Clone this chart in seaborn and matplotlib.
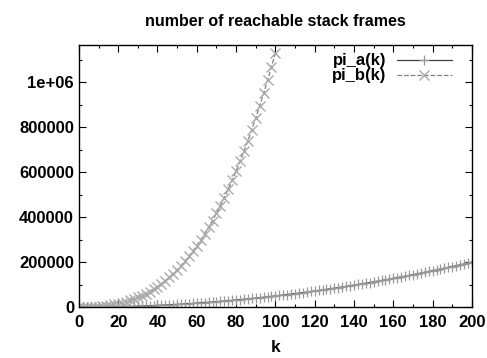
import matplotlib
matplotlib.use("Agg")
import matplotlib.pyplot as plt
import numpy as np
import pandas as pd
import seaborn as sns
from matplotlib.ticker import MultipleLocator

# k sampled every 2 steps
k_a = list(range(0, 201, 2))
k_b = list(range(0, 101, 2))

# values (pi_a roughly quadratic, pi_b roughly cubic)
pi_a = [0, 20, 80, 180, 320, 500, 720, 980, 1280, 1620,
        2000, 2420, 2880, 3380, 3920, 4500, 5120, 5780, 6480, 7220,
        8000, 8820, 9680, 10580, 11520, 12500, 13520, 14580, 15680, 16820,
        18000, 19220, 20480, 21780, 23120, 24500, 25920, 27380, 28880, 30420,
        32000, 33620, 35280, 36980, 38720, 40500, 42320, 44180, 46080, 48020,
        50000, 52020, 54080, 56180, 58320, 60500, 62720, 64980, 67280, 69620,
        72000, 74420, 76880, 79380, 81920, 84500, 87120, 89780, 92480, 95220,
        98000, 100820, 103680, 106580, 109520, 112500, 115520, 118580, 121680, 124820,
        128000, 131220, 134480, 137780, 141120, 144500, 147920, 151380, 154880, 158420,
        162000, 165620, 169280, 172980, 176720, 180500, 184320, 188180, 192080, 196020,
        200000]
pi_b = [0, 90, 380, 920, 1760, 2930, 4490, 6470, 8930, 11900,
        15440, 19580, 24380, 29870, 36100, 43110, 50950, 59670, 69310, 79910,
        91520, 104180, 117940, 132840, 148930, 166250, 184850, 204760, 226050, 248740,
        272880, 298530, 325710, 354500, 384900, 416990, 450790, 486380, 523800, 563090,
        604160, 647290, 692330, 739460, 788660, 839970, 893460, 949140, 1007120, 1067380,
        1130000]

df_a = pd.DataFrame({"k": k_a, "v": pi_a})
df_b = pd.DataFrame({"k": k_b, "v": pi_b})

sns.set_style("ticks")
plt.rcParams['font.family'] = ['Liberation Sans', 'DejaVu Sans']
plt.rcParams['text.color'] = 'black'
plt.rcParams['font.weight'] = 'bold'

fig = plt.figure(figsize=(4.87, 3.58), dpi=100)
ax = fig.add_axes([0.162, 0.142, 0.807, 0.732])

sns.lineplot(data=df_a, x="k", y="v", ax=ax, color="#404040", linewidth=0.9,
             marker="+", markersize=7, markeredgecolor="#999999", markeredgewidth=0.9,
             label="pi_a(k)")
sns.lineplot(data=df_b, x="k", y="v", ax=ax, color="#808080", linewidth=0.9,
             linestyle="--", marker="x", markersize=7, markeredgecolor="#aaaaaa",
             markeredgewidth=1.0, label="pi_b(k)")

ax.set_xlim(0, 200)
ax.set_ylim(0, 1164000)
ax.xaxis.set_major_locator(MultipleLocator(20))
ax.xaxis.set_minor_locator(MultipleLocator(10))
ax.yaxis.set_minor_locator(MultipleLocator(100000))
ax.set_yticks([0, 200000, 400000, 600000, 800000, 1000000])
ax.set_yticklabels(["0", "200000", "400000", "600000", "800000", "1e+06"])

ax.tick_params(which="both", direction="in", top=True, right=True, labelsize=12,
               colors="black", width=0.8)
ax.tick_params(which="major", length=5)
ax.tick_params(which="minor", length=2.5)
ax.tick_params(axis="x", pad=6)
for s in ax.spines.values():
    s.set_linewidth(1.0)
    s.set_color("black")

ax.set_title("number of reachable stack frames", fontsize=11.5, pad=14,
             color="black", fontweight="bold")
ax.set_xlabel("k", fontsize=12.5, labelpad=7, color="black", fontweight="bold")
ax.set_ylabel("")

ax.legend(loc="upper right", frameon=False, markerfirst=False, fontsize=12,
          handlelength=3.3, borderaxespad=0.1, labelspacing=0.0, handletextpad=0.6,
          bbox_to_anchor=(0.97, 1.0))

fig.savefig("out.png", dpi=100)
